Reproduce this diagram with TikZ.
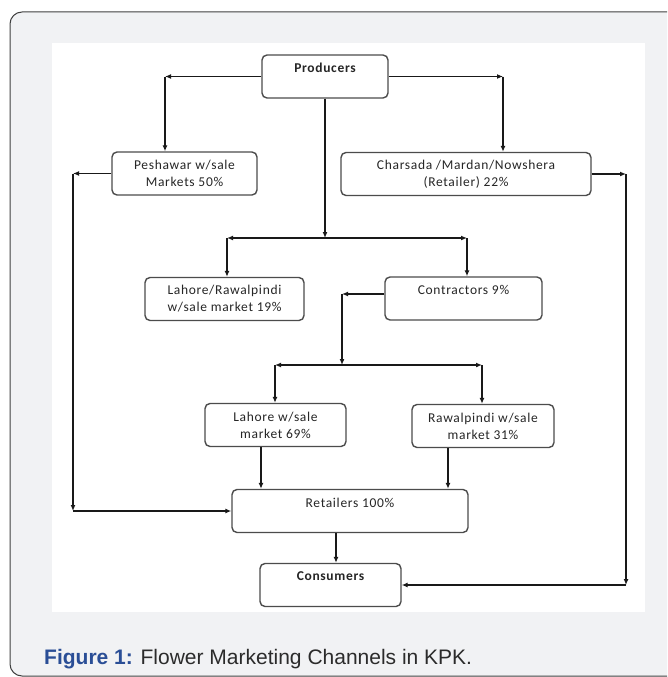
\documentclass[tikz,border=0pt]{standalone}
\usepackage{fontspec}
\setmainfont{Carlito}
\newfontfamily\boxfont[LetterSpace=5]{Carlito}
\newfontfamily\capfont{Liberation Sans}
\usetikzlibrary{arrows.meta}
\definecolor{panelgray}{HTML}{F1F2F4}
\definecolor{capblue}{HTML}{2A4E96}
\definecolor{captext}{HTML}{2B2B2B}
\tikzset{channel/.style={
		rectangle,
		rounded corners=5pt,
		draw=black!70,
		line width=1.4pt,
		fill=white,
		align=center,
		inner sep=0pt,
		minimum height=43pt,
		text=black!85,
		font=\boxfont\fontsize{13.5}{17}\selectfont},
	channelbold/.style={
		channel,
		font=\boxfont\bfseries\fontsize{13.5}{17}\selectfont},
	flow/.style={
		draw=black!90,
		line width=1.3pt,
		-{Latex[length=6pt,width=5pt]}},
	flowboth/.style={
		flow,
		{Latex[length=6pt,width=5pt]}-{Latex[length=6pt,width=5pt]}}}

\begin{document}
\begin{tikzpicture}[x=1pt,y=-1pt]
	\useasboundingbox (0,0) rectangle (667,677);
	\clip (0,0) rectangle (667,677);
	\draw[fill=panelgray, draw=black!75, line width=1pt, rounded corners=12pt] (10,12) rectangle (720,676);
	\fill[white] (52,43) rectangle (645,612);
	
	\node[channelbold, minimum width=126pt] (Producers) at (325,76.5) {Producers\\\mbox{}};
	\node[channel, minimum width=145pt] (Peshawar) at (184.5,173.5) {Peshawar w/sale\\Markets 50\%};
	\node[channel, minimum width=250pt] (Charsada) at (466,174) {Charsada /Mardan/Nowshera\\(Retailer) 22\%};
	\node[channel, minimum width=159pt] (LahoreRwp) at (224.5,299) {Lahore/Rawalpindi\\w/sale market 19\%};
	\node[channel, minimum width=157pt] (Contractors) at (463.5,298.5) {Contractors 9\%\\\mbox{}};
	\node[channel, minimum width=141pt] (LahoreWs) at (275.5,425) {Lahore w/sale\\market 69\%};
	\node[channel, minimum width=142pt] (RawalpindiWs) at (483,426) {Rawalpindi w/sale\\market 31\%};
	\node[channel, minimum width=236pt] (Retailers) at (350,511) {Retailers 100\%\\\mbox{}};
	\node[channelbold, minimum width=141pt] (Consumers) at (330.5,585) {Consumers\\\mbox{}};
	
	\coordinate (ProdLeft) at (165,76.5);
	\coordinate (ProdRight) at (503,76.5);
	\coordinate (Split) at (325,238);
	\coordinate (SplitLeft) at (227,238);
	\coordinate (SplitRight) at (467,238);
	\coordinate (ContrLeft) at (342,294);
	\coordinate (ContrSplit) at (342,365);
	\coordinate (ContrSplitLeft) at (275,365);
	\coordinate (ContrSplitRight) at (482,365);
	\coordinate (PeshLeft) at (73,173.5);
	\coordinate (PeshDown) at (73,511);
	\coordinate (CharRight) at (626,174);
	\coordinate (CharDown) at (626,585);
	\coordinate (LahoreOut) at (261,447);
	\coordinate (RwpOut) at (448,448);
	\coordinate (RetOut) at (336,533);
	
	\draw[flow] (Producers.west) -- (ProdLeft);
	\draw[flow] (ProdLeft) -- (ProdLeft |- Peshawar.north);
	\draw[flow] (Producers.east) -- (ProdRight);
	\draw[flow] (ProdRight) -- (ProdRight |- Charsada.north);
	\draw[flow] (Producers.south) -- (Split);
	\draw[flowboth] (SplitLeft) -- (SplitRight);
	\draw[flow] (SplitLeft) -- (SplitLeft |- LahoreRwp.north);
	\draw[flow] (SplitRight) -- (SplitRight |- Contractors.north);
	\draw[flow] (Contractors.west |- ContrLeft) -- (ContrLeft);
	\draw[flow] (ContrLeft) -- (ContrSplit);
	\draw[flowboth] (ContrSplitLeft) -- (ContrSplitRight);
	\draw[flow] (ContrSplitLeft) -- (ContrSplitLeft |- LahoreWs.north);
	\draw[flow] (ContrSplitRight) -- (ContrSplitRight |- RawalpindiWs.north);
	\draw[flow] (LahoreOut) -- (LahoreOut |- Retailers.north);
	\draw[flow] (RwpOut) -- (RwpOut |- Retailers.north);
	\draw[flow] (Peshawar.west) -- (PeshLeft);
	\draw[flow] (PeshLeft) -- (PeshDown);
	\draw[flow] (PeshDown) -- (Retailers.west);
	\draw[flow] (Charsada.east) -- (CharRight);
	\draw[flow] (CharRight) -- (CharDown);
	\draw[flow] (CharDown) -- (Consumers.east);
	\draw[flow] (RetOut) -- (RetOut |- Consumers.north);
	
	\node[anchor=base west, inner sep=0pt, text=captext, font=\capfont\fontsize{21}{25}\selectfont] (Caption) at (44,664) {\textcolor{capblue}{\bfseries Figure 1:} Flower Marketing Channels in KPK.};
\end{tikzpicture}
\end{document}
